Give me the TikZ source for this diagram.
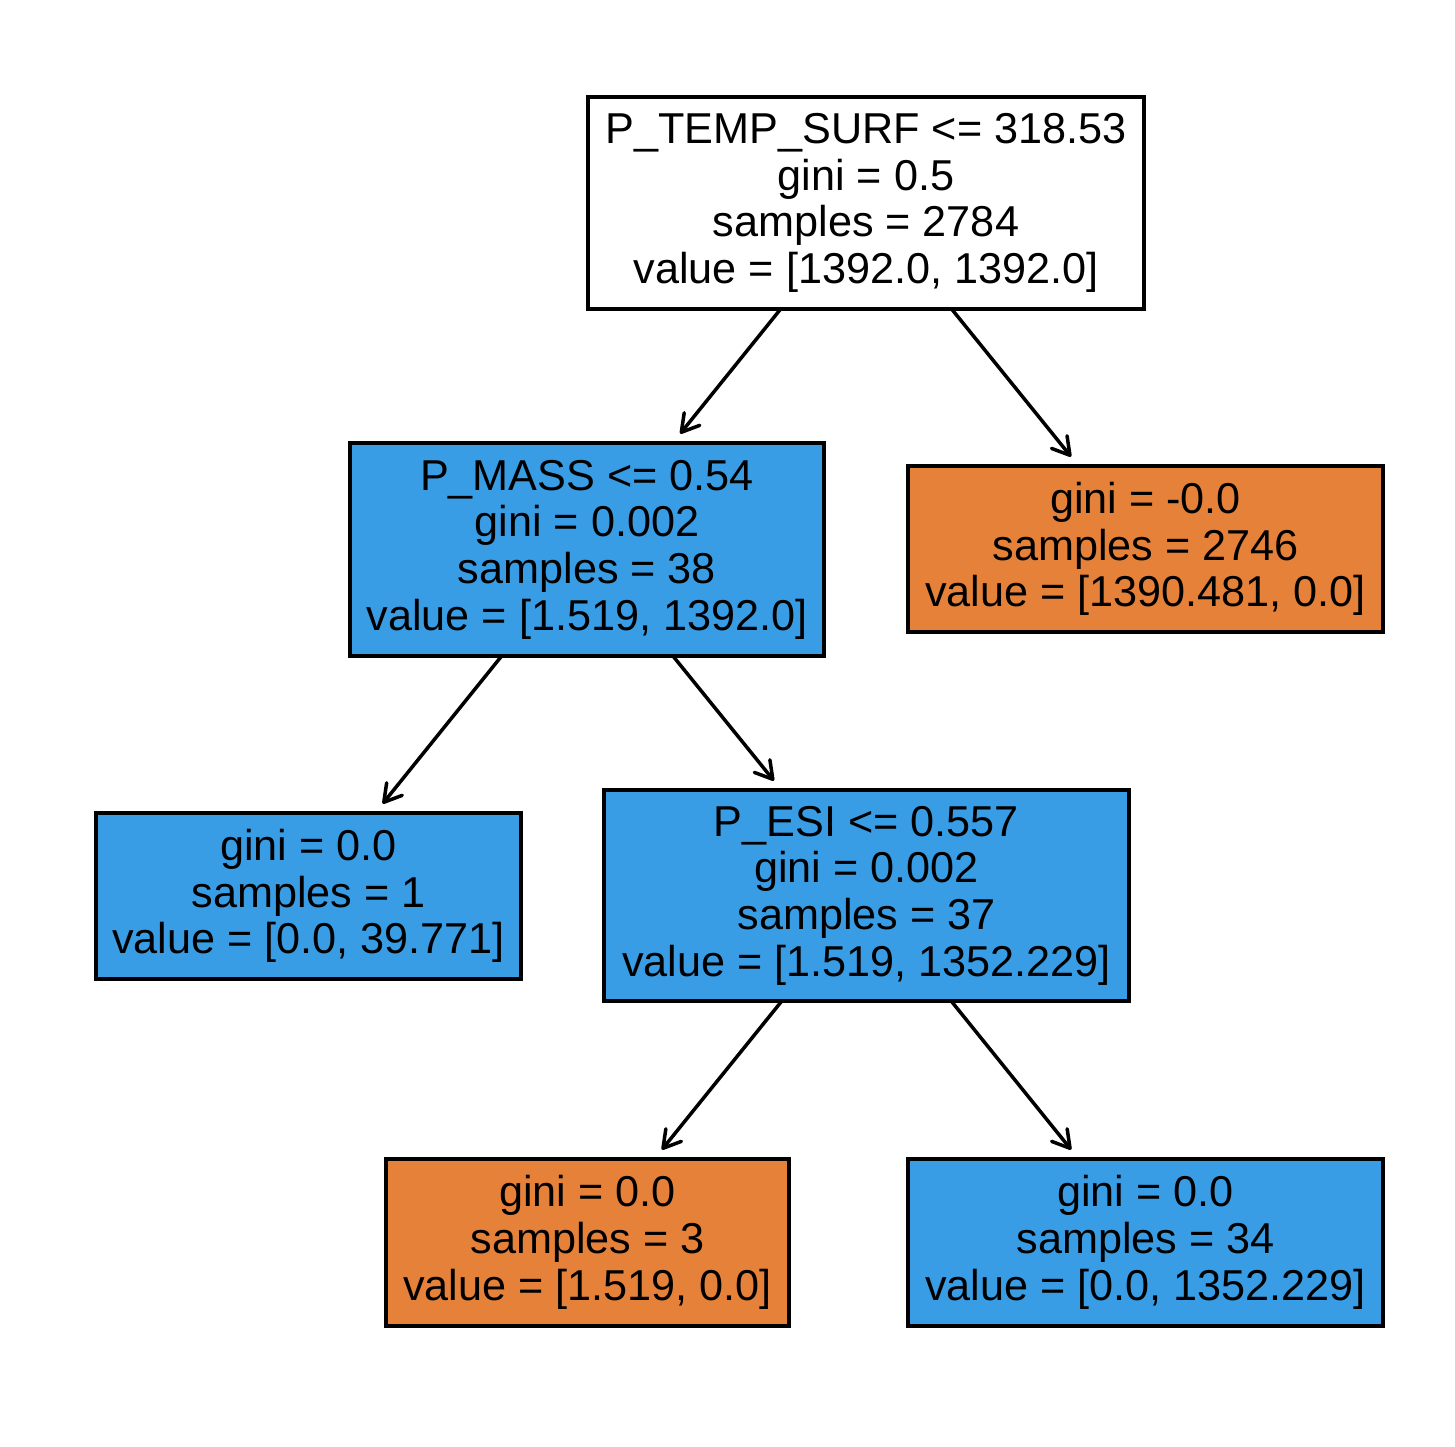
\documentclass[tikz,border=0pt]{standalone}
\usepackage{fontspec}
\setmainfont{Liberation Sans}
\usetikzlibrary{arrows.meta}
\definecolor{leafblue}{RGB}{57,157,229}
\definecolor{leaforange}{RGB}{229,129,57}
\tikzset{
  treebox/.style={draw=black, line width=4pt, inner sep=0pt, outer sep=0pt,
    align=center, font=\fontsize{43.2}{46.7}\selectfont},
  edge/.style={line width=3.5pt, line cap=round,
    -{Straight Barb[length=17pt,width=20pt,round]}, shorten >=12pt}
}
\begin{document}
\begin{tikzpicture}[x=1pt,y=-1pt]
\useasboundingbox (0,0) rectangle (1455,1446);
\fill[white] (0,0) rectangle (1455,1446);

\node[treebox, fill=white, minimum width=556pt, minimum height=212pt] (root) at (866,203)
  {P\_TEMP\_SURF <= 318.53\\gini = 0.5\\samples = 2784\\value = [1392.0, 1392.0]};
\node[treebox, fill=leafblue, minimum width=474pt, minimum height=213pt] (pmass) at (587,549.5)
  {P\_MASS <= 0.54\\gini = 0.002\\samples = 38\\value = [1.519, 1392.0]};
\node[treebox, fill=leaforange, minimum width=475pt, minimum height=166pt] (hot) at (1145.5,549)
  {gini = -0.0\\samples = 2746\\value = [1390.481, 0.0]};
\node[treebox, fill=leafblue, minimum width=425pt, minimum height=166pt] (light) at (308.5,896)
  {gini = 0.0\\samples = 1\\value = [0.0, 39.771]};
\node[treebox, fill=leafblue, minimum width=525pt, minimum height=211pt] (esi) at (866.5,895.5)
  {P\_ESI <= 0.557\\gini = 0.002\\samples = 37\\value = [1.519, 1352.229]};
\node[treebox, fill=leaforange, minimum width=403pt, minimum height=167pt] (lowesi) at (587.5,1242.5)
  {gini = 0.0\\samples = 3\\value = [1.519, 0.0]};
\node[treebox, fill=leafblue, minimum width=475pt, minimum height=167pt] (highesi) at (1145.5,1242.5)
  {gini = 0.0\\samples = 34\\value = [0.0, 1352.229]};

\draw[edge] (root) -- (pmass);
\draw[edge] (root) -- (hot);
\draw[edge] (pmass) -- (light);
\draw[edge] (pmass) -- (esi);
\draw[edge] (esi) -- (lowesi);
\draw[edge] (esi) -- (highesi);
\end{tikzpicture}
\end{document}
